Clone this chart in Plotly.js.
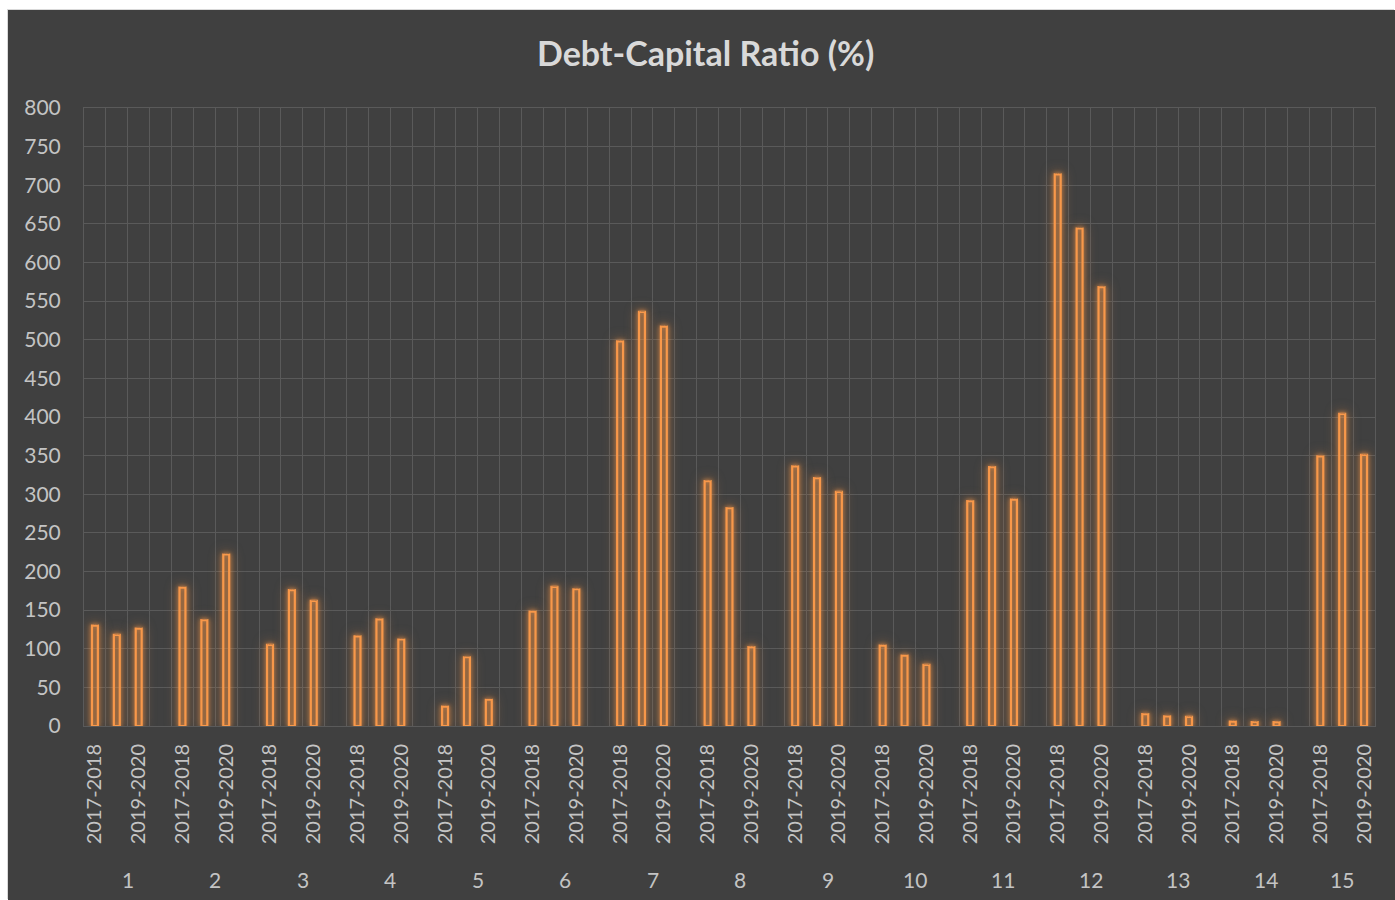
<!DOCTYPE html>
<html>
<head>
<meta charset="utf-8">
<script src="https://cdn.plot.ly/plotly-3.0.1.min.js"></script>
<style>
  html, body { margin: 0; padding: 0; background: #ffffff; }
  #chart { position: absolute; left: 8px; top: 10px; width: 1387px; height: 890px;
           box-shadow: -1px -1px 0 0 #d9d9d9; }
  .barlayer path {
    filter: drop-shadow(0 0 2px rgba(247,150,70,0.9)) drop-shadow(0 0 6px rgba(247,150,70,0.5));
  }
</style>
</head>
<body>
<div id="chart"></div>
<script>
// ---- data ----
const groups = ['1','2','3','4','5','6','7','8','9','10','11','12','13','14','15'];
const periods = ['2017-2018', '2018-2019', '2019-2020'];
const ratio2017_2018 = [130, 179, 105, 116, 25, 148, 498, 317, 336, 104, 291, 714, 15.5, 5.6, 349];
const ratio2018_2019 = [118, 137, 176, 138, 89, 180, 536, 282, 321, 91, 335, 644, 12.5, 5.2, 404];
const ratio2019_2020 = [126, 222, 162, 112, 34, 177, 517, 102, 303, 79, 293, 568, 11.7, 5.0, 351];
const seriesByPeriod = [ratio2017_2018, ratio2018_2019, ratio2019_2020];
// tick labels shown (Excel skips every other label)
const shownPeriods = ['2017-2018', '2019-2020'];

// ---- build category slots: each group = 3 periods + one empty slot ----
const slotsPerGroup = periods.length + 1;
const xs = [], ys = [], hover = [];
groups.forEach((g, gi) => {
  periods.forEach((p, pi) => {
    xs.push(gi * slotsPerGroup + pi);
    ys.push(seriesByPeriod[pi][gi]);
    hover.push(g + ' / ' + p);
  });
});
const tickvals = [], ticktext = [];
groups.forEach((g, gi) => {
  periods.forEach((p, pi) => {
    if (shownPeriods.includes(p)) {
      tickvals.push(gi * slotsPerGroup + pi);
      ticktext.push(p);
    }
  });
});
const lastSlot = (groups.length - 1) * slotsPerGroup + periods.length - 1;

const orange = '#F8984A';
const grid = '#5a5a5a';
const textCol = '#c4c4c4';
const fontFam = 'Lato, "Open Sans", sans-serif';

const trace = {
  type: 'bar',
  x: xs,
  y: ys,
  text: hover,
  width: 0.27,
  marker: { color: 'rgba(0,0,0,0)', line: { color: orange, width: 2.2 } },
  hoverinfo: 'text+y'
};

// group labels under the year labels
const annotations = groups.map((g, gi) => {
  const first = gi * slotsPerGroup;
  const last = gi === groups.length - 1 ? first + periods.length - 1 : first + slotsPerGroup - 1;
  return {
    x: (first + last) / 2, xref: 'x',
    y: -0.2476, yref: 'paper', yanchor: 'middle', xanchor: 'center',
    text: g, showarrow: false,
    font: { family: fontFam, size: 21, color: textCol }
  };
});

const layout = {
  width: 1387, height: 890,
  paper_bgcolor: '#404040', plot_bgcolor: '#404040',
  margin: { l: 76, r: 20, t: 98, b: 174 },
  showlegend: false,
  title: {
    text: '<b>Debt-Capital Ratio (%)</b>',
    x: 0.503, xref: 'container', xanchor: 'center',
    y: 0.951, yref: 'container', yanchor: 'middle',
    font: { family: fontFam, size: 34, color: '#d9d9d9' }
  },
  xaxis: {
    type: 'linear',
    range: [-0.5, lastSlot + 0.5],
    tickmode: 'array', tickvals: tickvals, ticktext: ticktext,
    tickangle: -90,
    showgrid: false, zeroline: false,
    ticks: '', ticklabelstandoff: 9,
    tickfont: { family: fontFam, size: 20, color: textCol },
    minor: { tick0: -0.5, dtick: 1, showgrid: true, gridcolor: grid, gridwidth: 1, ticks: '' },
    showline: true, mirror: true, linecolor: grid, linewidth: 1,
    fixedrange: true
  },
  yaxis: {
    range: [0, 800], dtick: 50, tick0: 0,
    showgrid: true, gridcolor: grid, gridwidth: 1,
    zeroline: false,
    ticks: '', ticklabelstandoff: 18,
    tickfont: { family: fontFam, size: 21, color: textCol },
    showline: true, mirror: true, linecolor: grid, linewidth: 1,
    fixedrange: true
  },
  annotations: annotations
};

Plotly.newPlot('chart', [trace], layout, { displayModeBar: false, staticPlot: true });
</script>
</body>
</html>
